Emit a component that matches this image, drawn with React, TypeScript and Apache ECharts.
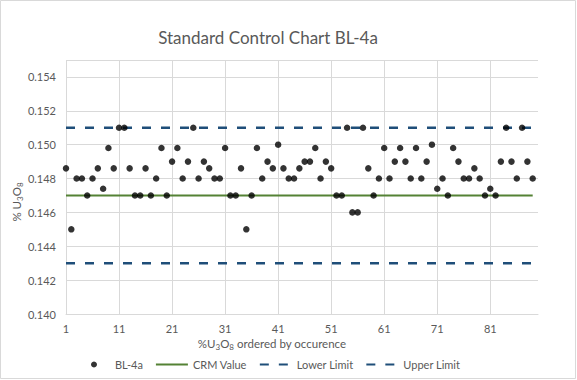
import React, { useEffect, useRef } from "react";
import * as echarts from "echarts";

// sample numbers on the category axis (1..90, last slot empty)
const categories: string[] = Array.from({ length: 90 }, (_, i) => String(i + 1));

// %U3O8 results of standard BL-4a, ordered by occurence
const bl4a: number[] = [
  0.1486, 0.1450, 0.1480, 0.1480, 0.1470, 0.1480, 0.1486, 0.1474, 0.1498, 0.1486,
  0.1510, 0.1510, 0.1486, 0.1470, 0.1470, 0.1486, 0.1470, 0.1480, 0.1498, 0.1470,
  0.1490, 0.1498, 0.1480, 0.1490, 0.1510, 0.1480, 0.1490, 0.1486, 0.1480, 0.1480,
  0.1498, 0.1470, 0.1470, 0.1486, 0.1450, 0.1470, 0.1498, 0.1480, 0.1490, 0.1486,
  0.1500, 0.1486, 0.1480, 0.1480, 0.1486, 0.1490, 0.1490, 0.1498, 0.1480, 0.1490,
  0.1486, 0.1470, 0.1470, 0.1510, 0.1460, 0.1460, 0.1510, 0.1486, 0.1470, 0.1480,
  0.1498, 0.1480, 0.1490, 0.1498, 0.1490, 0.1480, 0.1498, 0.1480, 0.1490, 0.1500,
  0.1474, 0.1480, 0.1470, 0.1498, 0.1490, 0.1480, 0.1480, 0.1486, 0.1480, 0.1470,
  0.1474, 0.1470, 0.1490, 0.1510, 0.1490, 0.1480, 0.1510, 0.1490, 0.1480,
];

const crmValue = 0.147;
const lowerLimit = 0.143;
const upperLimit = 0.151;
const firstSample = "1";
const lastSample = "89";

const crmLine = [[firstSample, crmValue], [lastSample, crmValue]];
const lowerLine = [[firstSample, lowerLimit], [lastSample, lowerLimit]];
const upperLine = [[firstSample, upperLimit], [lastSample, upperLimit]];

const yMin = 0.14;
const yMax = 0.155;
const yStep = 0.002;

const FONT = "Lato";
const TEXT = "#595959";
const GRID = "#d9d9d9";
const GREEN = "#548235";
const NAVY = "#1f4e79";

export default function App() {
  const ref = useRef<HTMLDivElement>(null);

  useEffect(() => {
    if (!ref.current) return;
    const chart = echarts.init(ref.current, undefined, { renderer: "svg" });
    const dash = [9, 10];
    const hiddenSymbol = { opacity: 0 };
    chart.setOption({
      animation: false,
      backgroundColor: "#ffffff",
      textStyle: { fontFamily: FONT },
      grid: { left: 66, right: 39, top: 60, bottom: 66, containLabel: false },
      xAxis: {
        type: "category",
        data: categories,
        boundaryGap: false,
        axisLine: { show: true, lineStyle: { color: GRID, width: 1 } },
        axisTick: { show: false },
        axisLabel: {
          interval: 9,
          color: TEXT,
          fontSize: 11,
          fontFamily: FONT,
          margin: 9,
        },
        splitLine: { show: true, interval: 9, lineStyle: { color: GRID, width: 1 } },
      },
      yAxis: {
        type: "value",
        min: yMin,
        max: yMax,
        interval: yStep,
        axisLine: { show: false },
        axisTick: { show: false },
        axisLabel: {
          color: TEXT,
          fontSize: 11,
          fontFamily: FONT,
          margin: 10,
          showMaxLabel: false,
          formatter: (v: number) => v.toFixed(3),
        },
        splitLine: { show: true, lineStyle: { color: GRID, width: 1 } },
      },
      legend: {
        data: [
          { name: "BL-4a" },
          { name: "CRM Value", itemStyle: hiddenSymbol },
          { name: "Lower Limit", itemStyle: hiddenSymbol },
          { name: "Upper Limit", itemStyle: hiddenSymbol },
        ],
        left: 86,
        top: 354,
        itemWidth: 32,
        itemHeight: 6,
        itemGap: 12,
        textStyle: { color: TEXT, fontSize: 11, fontFamily: FONT },
      },
      series: [
        {
          name: "CRM Value",
          type: "line",
          data: crmLine,
          symbol: "none",
          z: 2,
          lineStyle: { color: GREEN, width: 2 },
          itemStyle: { color: GREEN },
        },
        {
          name: "Lower Limit",
          type: "line",
          data: lowerLine,
          symbol: "none",
          z: 2,
          lineStyle: { color: NAVY, width: 2.5, type: dash },
          itemStyle: { color: NAVY },
        },
        {
          name: "Upper Limit",
          type: "line",
          data: upperLine,
          symbol: "none",
          z: 2,
          lineStyle: { color: NAVY, width: 2.5, type: dash },
          itemStyle: { color: NAVY },
        },
        {
          name: "BL-4a",
          type: "scatter",
          data: bl4a,
          symbol: "circle",
          symbolSize: 6.5,
          z: 5,
          itemStyle: { color: "#000000" },
        },
      ],
      graphic: [
        {
          type: "rect",
          silent: true,
          shape: { x: 0.5, y: 0.5, width: 575, height: 378 },
          style: { fill: "none", stroke: GRID, lineWidth: 1 },
        },
        {
          type: "text",
          x: 268,
          y: 37,
          style: {
            text: "Standard Control Chart BL-4a",
            fill: TEXT,
            fontSize: 17,
            fontFamily: FONT,
            align: "center",
            verticalAlign: "middle",
          },
        },
        {
          type: "text",
          x: 16,
          y: 202,
          rotation: Math.PI / 2,
          style: {
            text: "{n|% U}{s|3}{n|O}{s|8}",
            fill: TEXT,
            align: "center",
            verticalAlign: "middle",
            rich: {
              n: { fontSize: 11.5, fontFamily: FONT, fill: TEXT, lineHeight: 16 },
              s: { fontSize: 8, fontFamily: FONT, fill: TEXT, lineHeight: 8, verticalAlign: "bottom" },
            },
          },
        },
        {
          type: "text",
          x: 272,
          y: 343,
          style: {
            text: "{n|%U}{s|3}{n|O}{s|8}{n| ordered by occurence}",
            fill: TEXT,
            align: "center",
            verticalAlign: "middle",
            rich: {
              n: { fontSize: 11.5, fontFamily: FONT, fill: TEXT, lineHeight: 16 },
              s: { fontSize: 8, fontFamily: FONT, fill: TEXT, lineHeight: 8, verticalAlign: "bottom" },
            },
          },
        },
      ],
    });
    return () => chart.dispose();
  }, []);

  return (
    <div
      ref={ref}
      style={{ position: "absolute", left: 0, top: 0, width: 577, height: 380 }}
    />
  );
}
